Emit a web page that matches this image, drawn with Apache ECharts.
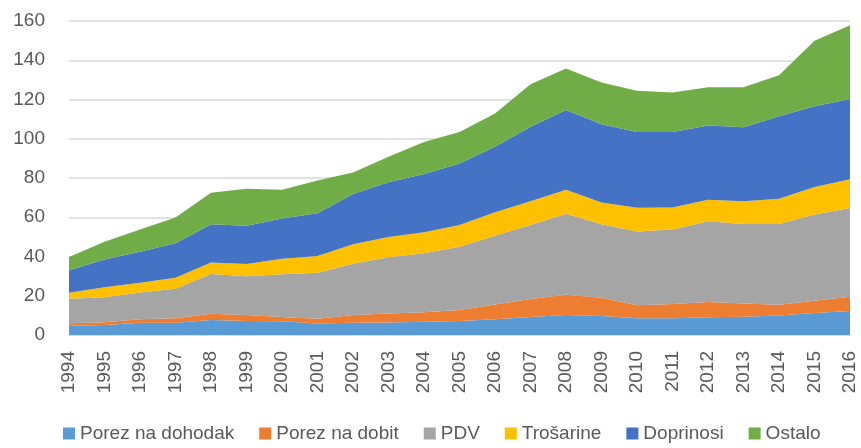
<!DOCTYPE html>
<html>
<head>
<meta charset="utf-8">
<script src="https://cdn.jsdelivr.net/npm/echarts@6/dist/echarts.min.js"></script>
<style>
  html, body { margin: 0; padding: 0; background: #fff; }
  #main { width: 861px; height: 448px; }
</style>
</head>
<body>
<div id="main"></div>
<script>
var years = ['1994','1995','1996','1997','1998','1999','2000','2001','2002','2003','2004',
             '2005','2006','2007','2008','2009','2010','2011','2012','2013','2014','2015','2016'];

var porezDohodak = [4.7, 5.1, 6.3, 6.3, 7.6, 7.1, 7.0, 5.9, 6.3, 6.4, 6.8,
                    7.1, 8.0, 9.2, 10.2, 9.7, 8.5, 8.5, 9.0, 9.3, 10.0, 11.2, 12.2];
var porezDobit = [1.3, 1.4, 1.7, 2.2, 3.2, 3.1, 2.2, 2.4, 3.9, 4.5, 4.8,
                  5.6, 7.6, 9.1, 10.3, 9.3, 6.6, 7.3, 7.8, 6.8, 5.4, 6.3, 7.3];
var pdv = [12.5, 12.7, 13.7, 15.1, 20.3, 19.8, 21.8, 23.4, 26.1, 28.7, 30.0,
           32.3, 35.0, 37.7, 41.3, 37.4, 37.7, 38.0, 41.1, 40.4, 41.1, 43.9, 45.2];
var trosarine = [3.0, 5.1, 4.9, 5.6, 5.9, 6.2, 7.9, 8.5, 9.9, 10.3, 10.7,
                 11.0, 11.9, 12.2, 12.2, 11.1, 12.0, 11.2, 11.0, 11.7, 12.9, 14.0, 14.7];
var doprinosi = [11.5, 14.2, 15.8, 17.6, 19.4, 19.5, 20.5, 21.8, 25.6, 27.9, 29.7,
                 31.4, 33.4, 37.9, 40.7, 39.9, 38.7, 38.5, 37.9, 37.6, 42.1, 41.2, 40.9];
var ostalo = [6.7, 9.0, 11.4, 13.1, 16.1, 18.8, 14.6, 16.7, 11.0, 13.0, 16.4,
              16.1, 17.0, 21.7, 21.1, 21.3, 20.9, 20.1, 19.5, 20.5, 20.9, 33.3, 37.5];

var seriesNames = ['Porez na dohodak', 'Porez na dobit', 'PDV', 'Trošarine', 'Doprinosi', 'Ostalo'];
var seriesData = [porezDohodak, porezDobit, pdv, trosarine, doprinosi, ostalo];
var colors = ['#5B9BD5', '#ED7D31', '#A5A5A5', '#FFC000', '#4472C4', '#70AD47'];

var font = 'Liberation Sans, Arial, sans-serif';
var textColor = '#595959';

var myChart = echarts.init(document.getElementById('main'));

var series = seriesNames.map(function (name, i) {
    return {
        name: name,
        type: 'line',
        stack: 'total',
        data: seriesData[i],
        showSymbol: false,
        symbol: 'none',
        lineStyle: { width: 0 },
        areaStyle: { opacity: 1, color: colors[i] },
        itemStyle: { color: colors[i] }
    };
});

myChart.setOption({
    animation: false,
    color: colors,
    grid: { left: 69, right: 11, top: 21, bottom: 113 },
    legend: {
        data: seriesNames,
        bottom: 0,
        left: 58,
        itemWidth: 12,
        itemHeight: 12,
        itemGap: 25,
        icon: 'rect',
        textStyle: { fontFamily: font, fontSize: 19, color: textColor }
    },
    xAxis: {
        type: 'category',
        data: years,
        boundaryGap: false,
        axisLine: { lineStyle: { color: '#d9d9d9', width: 1 } },
        axisTick: { show: false },
        axisLabel: {
            rotate: 90,
            margin: 16,
            fontFamily: font,
            fontSize: 19,
            color: textColor
        }
    },
    yAxis: {
        type: 'value',
        min: 0,
        max: 160,
        interval: 20,
        axisLine: { show: false },
        axisTick: { show: false },
        splitLine: { lineStyle: { color: '#d9d9d9', width: 1.5 } },
        axisLabel: {
            margin: 24,
            fontFamily: font,
            fontSize: 19,
            color: textColor
        }
    },
    series: series
});
</script>
</body>
</html>
